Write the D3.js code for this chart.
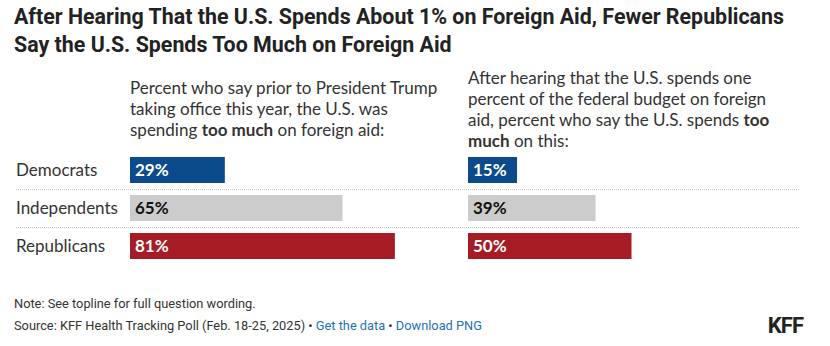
<!DOCTYPE html>
<html><head><meta charset="utf-8">
<script src="https://cdn.jsdelivr.net/npm/d3@7"></script>
<style>
body{margin:0;background:#fff;}
svg{display:block;}
.title{font-family:Roboto,sans-serif;font-weight:700;font-size:21.4px;fill:#222;}
.body{font-family:Lato,"Noto Sans",sans-serif;font-size:17px;fill:#333;}
.foot{font-family:Roboto,sans-serif;font-size:12.8px;fill:#333;}
</style></head>
<body>
<svg id="chart" width="830" height="346"></svg>
<script>
const categories = ["Democrats","Independents","Republicans"];
const beforeValues = [29,65,81];
const afterValues = [15,39,50];
const colors = ["#0b4a8b","#cccccc","#a51c24"];
const labelColors = ["#ffffff","#111111","#ffffff"];
const titleLines = ["After Hearing That the U.S. Spends About 1% on Foreign Aid, Fewer Republicans","Say the U.S. Spends Too Much on Foreign Aid"];
const leftHeader = [[["Percent who say prior to President Trump",false]],[["taking office this year, the U.S. was",false]],[["spending ",false],["too much",true],[" on foreign aid:",false]]];
const rightHeader = [[["After hearing that the U.S. spends one",false]],[["percent of the federal budget on foreign",false]],[["aid, percent who say the U.S. spends ",false],["too",true]],[["much",true],[" on this:",false]]];

const svg = d3.select("#chart");

svg.selectAll("text.title").data(titleLines).join("text")
  .attr("class","title").attr("x",14).attr("y",(d,i)=>24+i*28).text(d=>d);

const y = d3.scaleBand().domain(categories).range([151,265]).paddingInner(12/38).paddingOuter(6/38);
const w = d3.scaleLinear().domain([0,100]).range([0,327]);

function header(lines,x,y0){
  const t = svg.append("text").attr("class","body");
  lines.forEach((ln,i)=>{
    ln.forEach((seg,j)=>{
      const ts = t.append("tspan").text(seg[0]).attr("font-weight",seg[1]?700:400);
      if(j===0) ts.attr("x",x).attr("y",y0+i*21);
    });
  });
}
header(leftHeader,130,94);
header(rightHeader,468,84);

svg.selectAll("line.div").data(categories.slice(0,-1)).join("line")
  .attr("x1",16).attr("x2",800)
  .attr("y1",d=>y(d)+y.bandwidth()+6.5).attr("y2",d=>y(d)+y.bandwidth()+6.5)
  .attr("stroke","#c8c8c8").attr("stroke-width",1).attr("stroke-dasharray","1,1");

svg.selectAll("text.cat").data(categories).join("text")
  .attr("class","body").attr("x",16).attr("y",d=>y(d)+y.bandwidth()/2+6).text(d=>d);

function panel(vals,x0){
  const g = svg.append("g").attr("transform",`translate(${x0},0)`);
  g.selectAll("rect").data(vals).join("rect")
    .attr("x",0).attr("y",(d,i)=>y(categories[i])).attr("height",y.bandwidth())
    .attr("width",d=>w(d)).attr("fill",(d,i)=>colors[i]);
  g.selectAll("text").data(vals).join("text")
    .attr("class","body").attr("x",5).attr("y",(d,i)=>y(categories[i])+y.bandwidth()/2+6)
    .attr("font-weight",700).style("fill",(d,i)=>labelColors[i]).text(d=>d+"%");
}
panel(beforeValues,130);
panel(afterValues,468);

svg.append("text").attr("class","foot").attr("x",14).attr("y",308).text("Note: See topline for full question wording.");
const src = svg.append("text").attr("class","foot").attr("x",14).attr("y",330);
src.append("tspan").text("Source: KFF Health Tracking Poll (Feb. 18-25, 2025) • ");
src.append("tspan").style("fill","#1f6fb5").text("Get the data");
src.append("tspan").text(" • ");
src.append("tspan").style("fill","#1f6fb5").text("Download PNG");

svg.append("text").attr("x",803).attr("y",333).attr("text-anchor","end")
  .style("font-family","Roboto,sans-serif")
  .style("font-weight",700).style("font-size","22px").style("letter-spacing","-1px").style("fill","#222").text("KFF");
</script>
</body></html>
